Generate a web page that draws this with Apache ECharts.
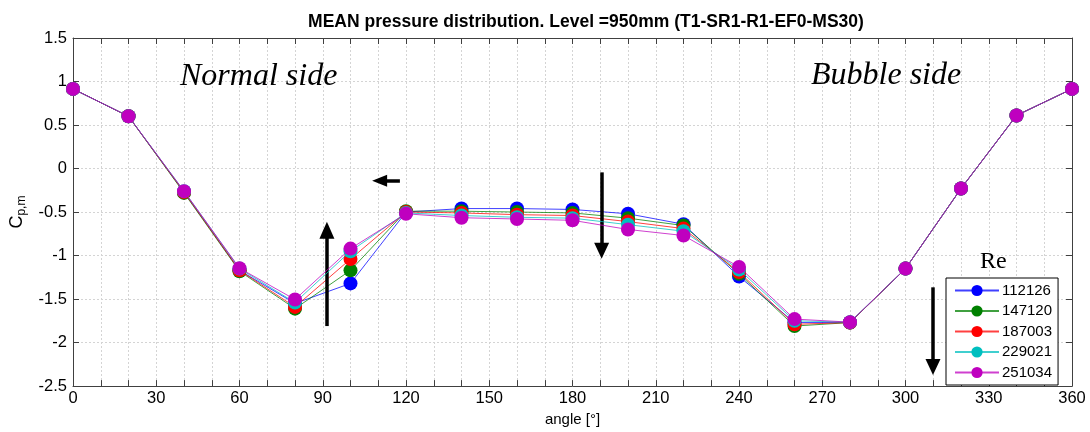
<!DOCTYPE html>
<html>
<head>
<meta charset="utf-8">
<script src="https://cdn.jsdelivr.net/npm/echarts@6/dist/echarts.min.js"></script>
<style>html,body{margin:0;padding:0;background:#fff;}#c{width:1090px;height:432px;}</style>
</head>
<body>
<div id="c"></div>
<script>
const angles = [0,20,40,60,80,100,120,140,160,180,200,220,240,260,280,300,320,340,360];
const seriesNames = ['112126','147120','187003','229021','251034'];
const re112126 = [0.915,0.60,-0.27,-1.17,-1.55,-1.32,-0.50,-0.46,-0.46,-0.47,-0.52,-0.64,-1.24,-1.77,-1.77,-1.15,-0.23,0.61,0.915];
const re147120 = [0.915,0.60,-0.28,-1.18,-1.61,-1.17,-0.49,-0.49,-0.50,-0.51,-0.57,-0.655,-1.21,-1.81,-1.77,-1.15,-0.23,0.61,0.915];
const re187003 = [0.915,0.60,-0.27,-1.17,-1.59,-1.04,-0.50,-0.51,-0.53,-0.54,-0.61,-0.69,-1.19,-1.79,-1.77,-1.15,-0.23,0.61,0.915];
const re229021 = [0.915,0.60,-0.26,-1.15,-1.54,-0.95,-0.51,-0.54,-0.56,-0.57,-0.645,-0.72,-1.16,-1.75,-1.765,-1.15,-0.23,0.61,0.915];
const re251034 = [0.915,0.60,-0.26,-1.145,-1.505,-0.92,-0.52,-0.565,-0.58,-0.595,-0.70,-0.77,-1.13,-1.73,-1.765,-1.15,-0.23,0.61,0.915];
const allValues = [re112126, re147120, re187003, re229021, re251034];
const colors = ['#0000ff','#008000','#ff0000','#00bfbf','#bf00bf'];
// annotation arrows [start, end] in data coordinates
const arrows = [
  {from:[91.5,-1.81], to:[91.5,-0.71], size:[15,17]},
  {from:[117.8,-0.139], to:[110.5,-0.139], size:[12,15]},
  {from:[190.5,-0.044], to:[190.5,-0.945], size:[15,16]},
  {from:[309.9,-1.365], to:[309.9,-2.28], size:[15,16]}
];

const chart = echarts.init(document.getElementById('c'));
const FONT = 'Liberation Sans, Arial, sans-serif';
const grid = {left:73, right:18, top:38, bottom:45};

const series = allValues.map((vals, i) => ({
  name: seriesNames[i],
  type: 'line',
  data: angles.map((a, j) => [a, vals[j]]),
  symbol: 'circle',
  symbolSize: 14,
  showSymbol: true,
  itemStyle: {color: colors[i], borderWidth: 0},
  lineStyle: {color: colors[i], width: 1, opacity: 0.75},
  z: 2 + i,
  animation: false
}));
series.push({
  type: 'line',
  data: [],
  silent: true,
  z: 20,
  markLine: {
    silent: true,
    animation: false,
    label: {show: false},
    emphasis: {disabled: true},
    data: arrows.map(a => [
      {coord: a.from, symbol: 'none', lineStyle:{color:'#000', width:3.5, type:'solid'}},
      {coord: a.to, symbol: 'triangle', symbolSize: a.size}
    ]),
    lineStyle: {color:'#000', width:3.5, type:'solid'},
    itemStyle: {color:'#000'}
  }
});

const axisLineStyle = {show: true, onZero: false, lineStyle: {color: '#404040', width: 1}};
const tickStyle = {show: true, inside: true, length: 6, lineStyle: {color: '#404040'}};

const option = {
  animation: false,
  backgroundColor: '#fff',
  title: {
    text: 'MEAN pressure distribution. Level =950mm (T1-SR1-R1-EF0-MS30)',
    left: 581, top: 8, textAlign: 'center',
    textStyle: {fontFamily: FONT, fontSize: 17.5, fontWeight: 'bold', color: '#000'}
  },
  grid: grid,
  legend: {
    data: seriesNames,
    orient: 'vertical',
    left: 946, top: 278,
    itemWidth: 44, itemHeight: 14, itemGap: 5.5,
    padding: [5, 6, 5, 8],
    backgroundColor: '#fff',
    borderColor: '#000', borderWidth: 1, borderRadius: 0,
    textStyle: {fontFamily: FONT, fontSize: 15, color: '#000', padding:[0,0,0,-2]}
  },
  xAxis: [{
    type: 'value', min: 0, max: 360, interval: 10,
    name: 'angle [°]', nameLocation: 'middle', nameGap: 21,
    nameTextStyle: {fontFamily: FONT, fontSize: 15, color: '#000'},
    axisLine: axisLineStyle,
    axisTick: tickStyle,
    axisLabel: {fontFamily: FONT, fontSize: 16.5, color: '#000', margin: 4,
      formatter: v => (v % 30 === 0 ? String(v) : '')},
    splitLine: {show: true, lineStyle: {color: '#d4d4d4', type: [2,2], width: 1}}
  }, {
    type: 'value', min: 0, max: 360, interval: 10, position: 'top',
    axisLine: axisLineStyle,
    axisTick: tickStyle,
    axisLabel: {show: false}, splitLine: {show: false}
  }],
  yAxis: [{
    type: 'value', min: -2.5, max: 1.5, interval: 0.5,
    name: '{c|C}{s|p,m}', nameLocation: 'middle', nameGap: 30,
    nameTextStyle: {
      rich: {
        c: {fontFamily: FONT, fontSize: 18, color: '#000'},
        s: {fontFamily: FONT, fontSize: 12, color: '#000', padding: [9,0,0,0]}
      }
    },
    axisLine: axisLineStyle,
    axisTick: tickStyle,
    axisLabel: {fontFamily: FONT, fontSize: 16.5, color: '#000', margin: 6},
    splitLine: {show: true, lineStyle: {color: '#d4d4d4', type: [2,2], width: 1}}
  }, {
    type: 'value', min: -2.5, max: 1.5, interval: 0.5, position: 'right',
    axisLine: axisLineStyle,
    axisTick: tickStyle,
    axisLabel: {show: false}, splitLine: {show: false}
  }],
  graphic: [
    {type: 'text', left: 180, top: 61, z: 30,
      style: {text: 'Normal side', font: 'italic 32px "Liberation Serif", "Times New Roman", serif', fill: '#000'}},
    {type: 'text', left: 811, top: 60, z: 30,
      style: {text: 'Bubble side', font: 'italic 32px "Liberation Serif", "Times New Roman", serif', fill: '#000'}},
    {type: 'text', left: 980, top: 250, z: 30,
      style: {text: 'Re', font: '24px "Liberation Serif", "Times New Roman", serif', fill: '#000'}}
  ],
  series: series
};
chart.setOption(option);
</script>
</body>
</html>
